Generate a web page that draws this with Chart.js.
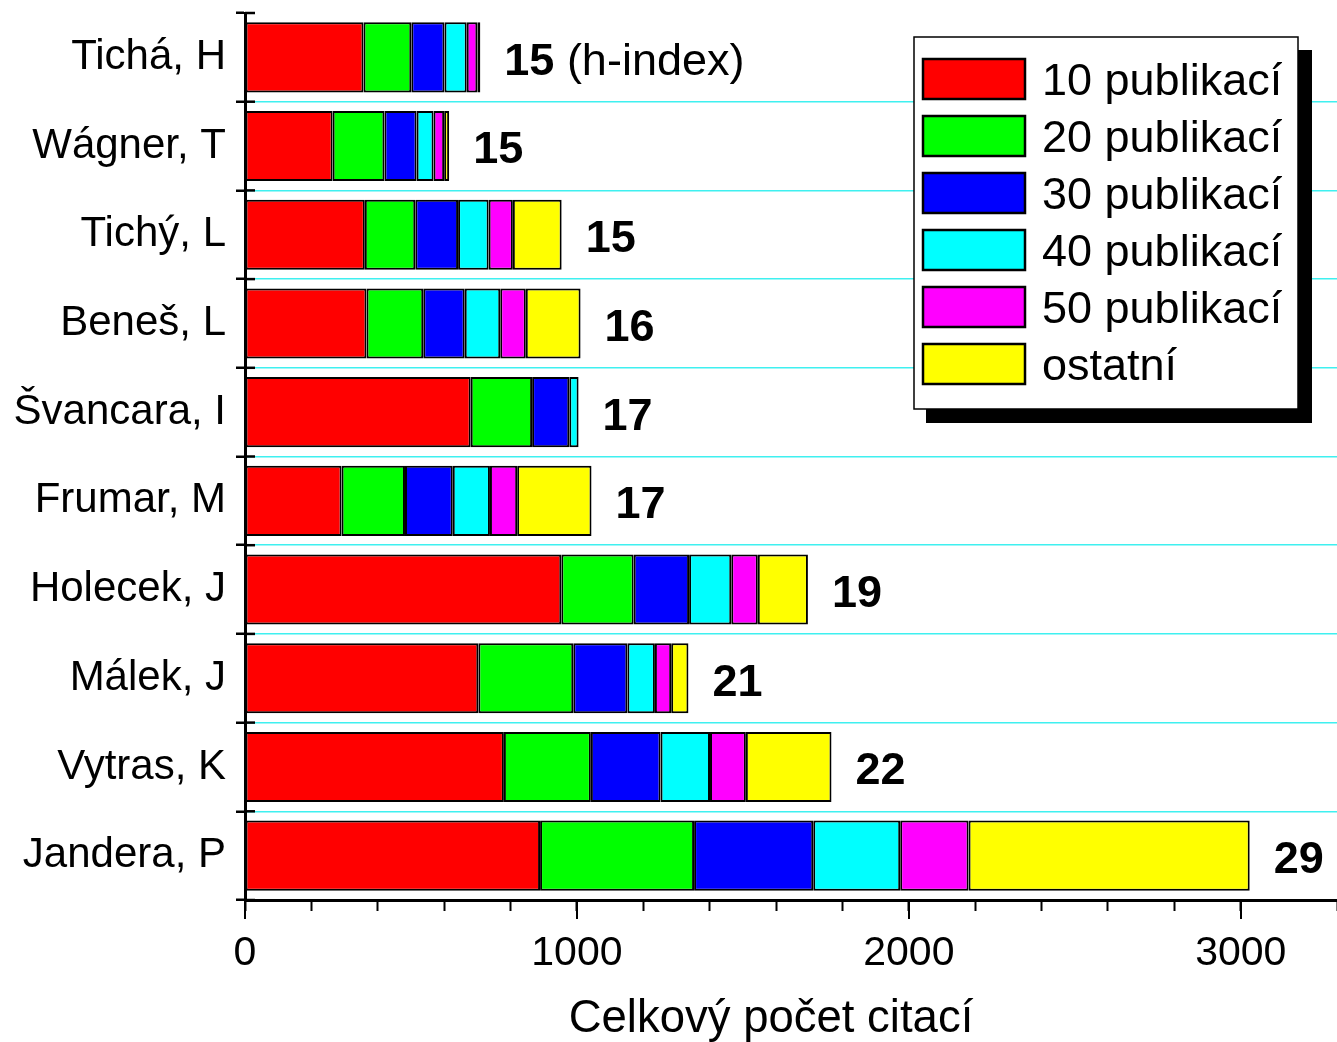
<!DOCTYPE html>
<html>
<head>
<meta charset="utf-8">
<script src="https://cdn.jsdelivr.net/npm/chart.js@4"></script>
<style>
  body { margin: 0; background: #fff; }
  canvas { display: block; }
</style>
</head>
<body>
<canvas id="myChart" width="1337" height="1042"></canvas>
<script>
const names = ['Tichá, H', 'Wágner, T', 'Tichý, L', 'Beneš, L', 'Švancara, I', 'Frumar, M', 'Holecek, J', 'Málek, J', 'Vytras, K', 'Jandera, P'];
const seriesNames = ['10 publikací', '20 publikací', '30 publikací', '40 publikací', '50 publikací', 'ostatní'];
const pub10 = [357, 264, 361, 366, 680, 291, 953, 703, 780, 889];
const pub20 = [144, 156, 152, 171, 185, 191, 218, 286, 262, 464];
const pub30 = [100, 97, 129, 125, 112, 144, 167, 163, 210, 359];
const pub40 = [67, 51, 92, 107, 28, 112, 127, 83, 149, 262];
const pub50 = [32, 32, 73, 77, 0, 82, 80, 49, 108, 206];
const other = [9, 15, 147, 165, 0, 224, 151, 52, 258, 847];
const hIndex = [15, 15, 15, 16, 17, 17, 19, 21, 22, 29];
const xLabels = [0, 1000, 2000, 3000];
const xTitle = 'Celkový počet citací';

const colors = ['#ff0000', '#00ff00', '#0000ff', '#00ffff', '#ff00ff', '#ffff00'];
const series = [pub10, pub20, pub30, pub40, pub50, other];
const FONT = "'Liberation Sans', Arial, sans-serif";

var datasets = [];
for (let i = 0; i < series.length; i++) {
    datasets.push({
        label: seriesNames[i],
        data: series[i],
        backgroundColor: colors[i],
        borderColor: '#000',
        borderWidth: 2,
        borderSkipped: false,
        inflateAmount: 0,
        barPercentage: 0.79,
        categoryPercentage: 1
    });
}

// h-index labels, axis title, legend box and tick details
const extras = {
    id: 'extras',
    afterDraw(chart) {
        const ctx = chart.ctx;
        const x = chart.scales.x;
        const y = chart.scales.y;
        const area = chart.chartArea;
        ctx.save();

        // inner half of the y ticks
        ctx.strokeStyle = '#000';
        ctx.lineWidth = 2.5;
        const step = (area.bottom - area.top) / names.length;
        for (let i = 0; i <= names.length; i++) {
            const yy = area.top + i * step;
            ctx.beginPath();
            ctx.moveTo(area.left, yy);
            ctx.lineTo(area.left + 10, yy);
            ctx.stroke();
        }
        // longer major ticks on x
        ctx.lineWidth = 2;
        xLabels.forEach(v => {
            const xx = Math.round(x.getPixelForValue(v));
            ctx.beginPath();
            ctx.moveTo(xx, area.bottom);
            ctx.lineTo(xx, area.bottom + 19);
            ctx.stroke();
        });

        // h-index values
        ctx.fillStyle = '#000';
        ctx.textBaseline = 'middle';
        ctx.textAlign = 'left';
        for (let i = 0; i < names.length; i++) {
            let total = 0;
            series.forEach(s => total += s[i]);
            const xx = x.getPixelForValue(total) + 24;
            const yy = y.getPixelForValue(i) + 5;
            ctx.font = 'bold 45px ' + FONT;
            ctx.fillText(String(hIndex[i]), xx, yy);
            if (i === 0) {
                const w = ctx.measureText(String(hIndex[i])).width;
                ctx.font = '45px ' + FONT;
                ctx.fillText(' (h-index)', xx + w, yy);
            }
        }

        // axis title
        ctx.font = '45.5px ' + FONT;
        ctx.textAlign = 'center';
        ctx.textBaseline = 'alphabetic';
        ctx.fillText(xTitle, 771, 1032);

        // legend with shadow
        ctx.fillStyle = '#000';
        ctx.fillRect(926, 50, 386, 373);
        ctx.fillStyle = '#fff';
        ctx.fillRect(914, 37, 384, 372);
        ctx.strokeStyle = '#000';
        ctx.lineWidth = 1.5;
        ctx.strokeRect(914, 37, 384, 372);
        ctx.font = '45px ' + FONT;
        ctx.textAlign = 'left';
        for (let i = 0; i < seriesNames.length; i++) {
            const top = 59 + i * 57;
            ctx.fillStyle = colors[i];
            ctx.fillRect(923, top, 102, 40);
            ctx.lineWidth = 2.5;
            ctx.strokeRect(923, top, 102, 40);
            ctx.fillStyle = '#000';
            ctx.fillText(seriesNames[i], 1042, top + 36);
        }
        ctx.restore();
    }
};

var ctx = document.getElementById('myChart').getContext('2d');
window.myChart = new Chart(ctx, {
    type: 'bar',
    data: {
        labels: names,
        datasets: datasets
    },
    options: {
        indexAxis: 'y',
        responsive: false,
        animation: false,
        devicePixelRatio: 1,
        layout: { padding: { top: 13, left: 0, right: 0, bottom: 0 } },
        plugins: {
            legend: { display: false },
            tooltip: { enabled: false }
        },
        scales: {
            x: {
                stacked: true,
                min: 0,
                max: 3290,
                afterFit: s => { s.height = 142; s.paddingLeft = 0; s.paddingRight = 0; },
                border: { display: true, color: '#000', width: 3 },
                grid: {
                    drawOnChartArea: false,
                    tickLength: 11,
                    tickWidth: 2,
                    tickColor: '#000'
                },
                ticks: {
                    stepSize: 200,
                    autoSkip: false,
                    maxRotation: 0,
                    padding: 18,
                    color: '#000',
                    font: { family: FONT, size: 41 },
                    callback: v => xLabels.includes(v) ? String(v) : ''
                }
            },
            y: {
                stacked: true,
                afterFit: s => { s.width = 245; s.paddingTop = 0; s.paddingBottom = 0; },
                border: { display: true, color: '#000', width: 3 },
                grid: {
                    offset: true,
                    color: c => (c.index === 0 || c.index === names.length) ? 'rgba(0,0,0,0)' : '#3ff0f0',
                    lineWidth: 1.5,
                    tickLength: 9,
                    tickWidth: 2.5,
                    tickColor: '#000'
                },
                ticks: {
                    padding: 10,
                    color: '#000',
                    font: { family: FONT, size: 42 }
                }
            }
        }
    },
    plugins: [extras]
});
</script>
</body>
</html>
